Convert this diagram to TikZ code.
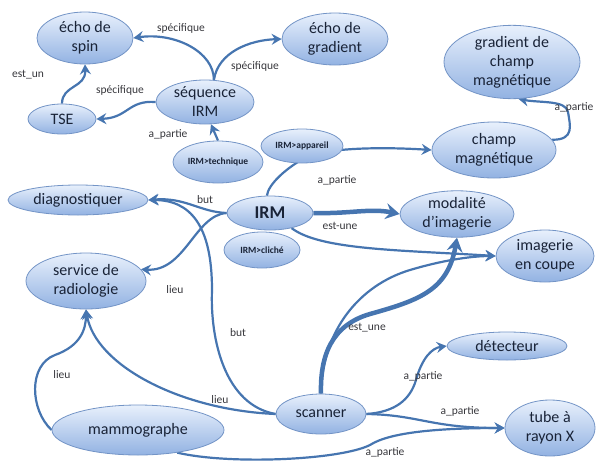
\documentclass[tikz,border=0pt]{standalone}
\usepackage{fontspec}
\setmainfont{Carlito}
\usetikzlibrary{shapes.geometric,arrows.meta,backgrounds}
\definecolor{edgec}{RGB}{70,117,176}
\definecolor{nodetop}{RGB}{232,240,252}
\definecolor{nodebot}{RGB}{146,178,226}
\definecolor{nodeline}{RGB}{115,148,198}
\definecolor{txt}{RGB}{25,35,55}
\definecolor{lbl}{RGB}{55,55,60}
\begin{document}
\begin{tikzpicture}[x=1pt,y=-1pt,
  concept/.style={ellipse, draw=nodeline, line width=0.8pt, top color=nodetop, bottom color=nodebot,
    inner sep=0pt, text=txt, font=\fontsize{16}{19}\selectfont, align=center},
  small/.style={concept, font=\bfseries\fontsize{9.5}{11}\selectfont},
  link/.style={draw=edgec, line width=2.2pt, -{Stealth[length=10pt,width=11pt,inset=3.5pt]}},
  biglink/.style={draw=edgec, line width=4.5pt, -{Stealth[length=14pt,width=16pt,inset=5pt]}},
  lab/.style={font=\fontsize{11.5}{13}\selectfont, text=lbl, inner sep=1pt}
]
\useasboundingbox (0,0) rectangle (597,469);
% nodes
\node[concept, minimum width=96, minimum height=52] (spin) at (85,38) {écho de\\spin};
\node[concept, minimum width=106, minimum height=52] (grad) at (335,39) {écho de\\gradient};
\node[concept, minimum width=136, minimum height=68] (gcm) at (512,62) {gradient de\\champ\\magnétique};
\node[concept, minimum width=98, minimum height=44] (seq) at (205,102) {séquence\\IRM};
\node[concept, minimum width=68, minimum height=30] (tse) at (62,119) {TSE};
\node[small, minimum width=90, minimum height=42] (tech) at (218,162) {IRM>technique};
\node[small, minimum width=82, minimum height=34] (app) at (302,146) {IRM>appareil};
\node[concept, minimum width=124, minimum height=56] (champ) at (494,150) {champ\\magnétique};
\node[concept, minimum width=140, minimum height=30] (diag) at (78,200) {diagnostiquer};
\node[small, minimum width=76, minimum height=36] (cliche) at (262,250) {IRM>cliché};
\node[concept, minimum width=86, minimum height=34, font=\bfseries\fontsize{18}{20}\selectfont] (irm) at (270,213) {IRM};
\node[concept, minimum width=114, minimum height=46] (moda) at (457,214) {modalité\\d’imagerie};
\node[concept, minimum width=98, minimum height=52] (coupe) at (545,256) {imagerie\\en coupe};
\node[concept, minimum width=120, minimum height=56] (serv) at (86,281) {service de\\radiologie};
\node[concept, minimum width=120, minimum height=28] (det) at (507,346) {détecteur};
\node[concept, minimum width=90, minimum height=40] (scan) at (321,414) {scanner};
\node[concept, minimum width=172, minimum height=50] (mammo) at (138,430) {mammographe};
\node[concept, minimum width=90, minimum height=56] (tube) at (550,428) {tube à\\rayon X};
% connectors
\begin{pgfonlayer}{background}
\draw[link] (seq.68) .. controls (214,52) and (175,32) .. (spin.east);
\draw[link] (seq.68) .. controls (218,52) and (250,40) .. (grad.west);
\draw[link] (seq.west) .. controls (128,100) and (128,118) .. (tse.east);
\draw[link] (tse.north) .. controls (62,85) and (86,88) .. (spin.south);
\draw[link] (tech.north) -- (seq.-75);
\draw[link] (champ.10) .. controls (575,140) and (570,125) .. (568,112) .. controls (566,100) and (540,103) .. (gcm.-80);
\draw[link] (irm.100) .. controls (268,185) and (285,168) .. (310,155) .. controls (345,146) and (400,148) .. (champ.west);
\draw[link] (irm.west) .. controls (200,212) and (185,197) .. (diag.east);
\draw[link] (irm.west) .. controls (195,215) and (185,272) .. (serv.12);
\draw[biglink] (irm.east) .. controls (350,214) and (370,208) .. (moda.west);
\draw[link] (irm.-35) .. controls (320,250) and (400,250) .. (coupe.west);
\draw[link] (scan.west) .. controls (225,405) and (210,340) .. (212,290) .. controls (212,225) and (190,200) .. (diag.east);
\draw[link] (scan.west) .. controls (180,410) and (95,365) .. (serv.south);
\draw[link] (mammo.west) .. controls (30,410) and (28,365) .. (55,355) .. controls (80,346) and (86,330) .. (serv.south);
\draw[link] (scan.north) .. controls (322,330) and (360,285) .. (410,270) .. controls (440,261) and (470,256) .. (coupe.west);
\draw[biglink] (scan.north) .. controls (320,355) and (332,325) .. (370,314) .. controls (420,300) and (448,290) .. (moda.south);
\draw[link] (scan.east) .. controls (395,412) and (410,400) .. (416,380) .. controls (422,358) and (432,348) .. (det.west);
\draw[link] (scan.east) .. controls (420,415) and (430,428) .. (tube.west);
\draw[link] (mammo.-30) .. controls (230,465) and (340,460) .. (370,445) .. controls (390,432) and (440,428) .. (tube.west);
\end{pgfonlayer}
% labels
\node[lab] (l1) at (181,28) {spécifique};
\node[lab] (l2) at (255,66) {spécifique};
\node[lab] (l3) at (120,90) {spécifique};
\node[lab] (l4) at (28,75) {est\_un};
\node[lab] (l5) at (168,134) {a\_partie};
\node[lab] (l6) at (574,107) {a\_partie};
\node[lab] (l7) at (337,180) {a\_partie};
\node[lab] (l8) at (205,200) {but};
\node[lab] (l9) at (175,290) {lieu};
\node[lab] (l10) at (340,226) {est-une};
\node[lab] (l11) at (238,333) {but};
\node[lab] (l12) at (220,400) {lieu};
\node[lab] (l13) at (62,375) {lieu};
\node[lab] (l14) at (367,328) {est\_une};
\node[lab] (l15) at (423,376) {a\_partie};
\node[lab] (l16) at (460,411) {a\_partie};
\node[lab] (l17) at (385,452) {a\_partie};
\end{tikzpicture}
\end{document}
